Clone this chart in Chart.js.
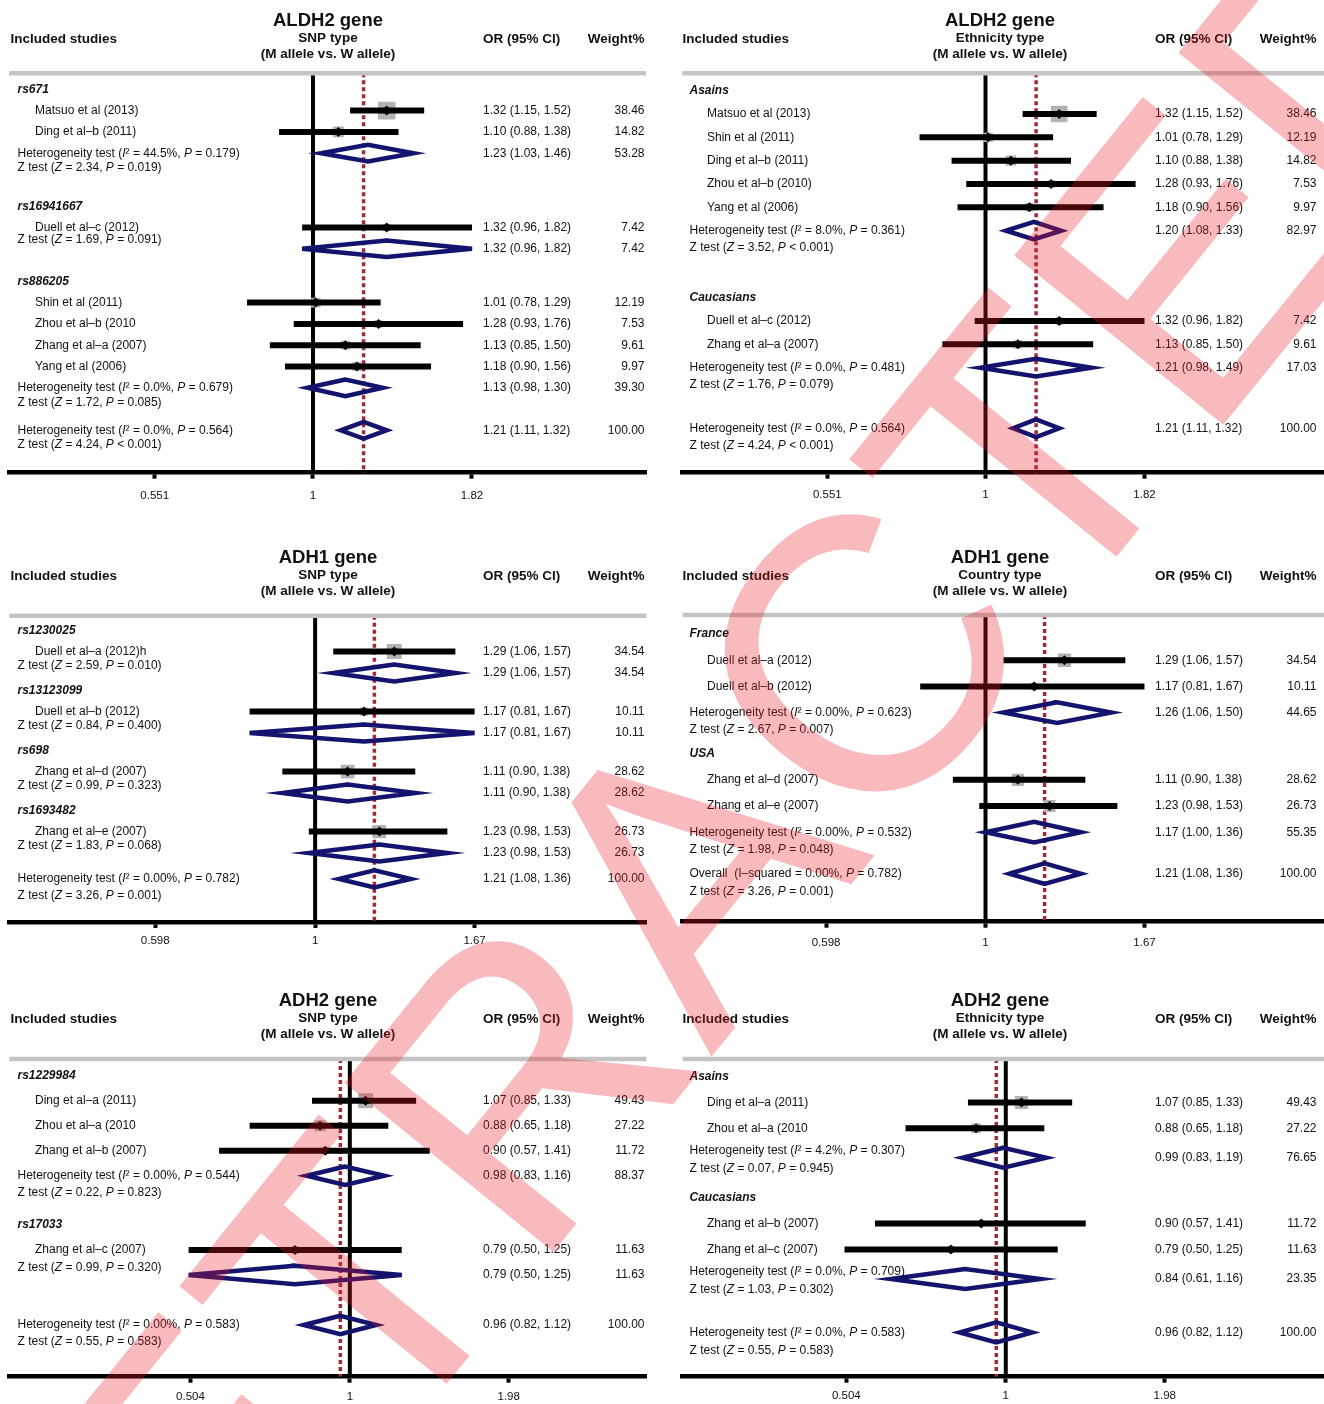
<!DOCTYPE html>
<html lang="en">
<head>
<meta charset="UTF-8">
<title>Forest plots: ALDH2, ADH1, ADH2</title>
<script src="https://cdnjs.cloudflare.com/ajax/libs/Chart.js/4.4.1/chart.umd.min.js"></script>
<style>
  body {
    margin: 0;
    width: 1324px;
    height: 1404px;
    overflow: hidden;
    position: relative;
    background: #fff;
  }
  canvas.panel { position: absolute; }
  #stamp { position: absolute; left: 0; top: 0; pointer-events: none; }
</style>
</head>
<body>
<canvas id="stamp" width="1324" height="1404"></canvas>
<script>
// ---------- data ----------

// tick values of the three x axes
const aldh2Ticks = [0.551, 1, 1.82];
const adh1Ticks = [0.598, 1, 1.67];
const adh2Ticks = [0.504, 1, 1.98];

// ALDH2 gene, SNP type
const aldh2SnpGroups = ['rs671', 'rs16941667', 'rs886205'];
const aldh2SnpStudies = ['Matsuo et al (2013)', 'Ding et al–b (2011)', 'Duell et al–c (2012)', 'Shin et al (2011)',
  'Zhou et al–b (2010', 'Zhang et al–a (2007)', 'Yang et al (2006)'];
const aldh2SnpStudyGroup = [0, 0, 1, 2, 2, 2, 2];
const aldh2SnpOR = [1.32, 1.10, 1.32, 1.01, 1.28, 1.13, 1.18];
const aldh2SnpLow = [1.15, 0.88, 0.96, 0.78, 0.93, 0.85, 0.90];
const aldh2SnpHigh = [1.52, 1.38, 1.82, 1.29, 1.76, 1.50, 1.56];
const aldh2SnpWeight = [38.46, 14.82, 7.42, 12.19, 7.53, 9.61, 9.97];
// pooled rows: one per group, the last one is the overall estimate
const aldh2SnpPoolOR = [1.23, 1.32, 1.13, 1.21];
const aldh2SnpPoolLow = [1.03, 0.96, 0.98, 1.11];
const aldh2SnpPoolHigh = [1.46, 1.82, 1.30, 1.32];
const aldh2SnpPoolWeight = [53.28, 7.42, 39.30, 100.00];
const aldh2SnpHet = ['Heterogeneity test (*I*² = 44.5%, *P* = 0.179)', null,
  'Heterogeneity test (*I*² = 0.0%, *P* = 0.679)', 'Heterogeneity test (*I*² = 0.0%, *P* = 0.564)'];
const aldh2SnpZ = ['Z test (*Z* = 2.34, *P* = 0.019)', 'Z test (*Z* = 1.69, *P* = 0.091)',
  'Z test (*Z* = 1.72, *P* = 0.085)', 'Z test (*Z* = 4.24, *P* < 0.001)'];

// ALDH2 gene, ethnicity type
const aldh2EthGroups = ['Asains', 'Caucasians'];
const aldh2EthStudies = ['Matsuo et al (2013)', 'Shin et al (2011)', 'Ding et al–b (2011)', 'Zhou et al–b (2010)',
  'Yang et al (2006)', 'Duell et al–c (2012)', 'Zhang et al–a (2007)'];
const aldh2EthStudyGroup = [0, 0, 0, 0, 0, 1, 1];
const aldh2EthOR = [1.32, 1.01, 1.10, 1.28, 1.18, 1.32, 1.13];
const aldh2EthLow = [1.15, 0.78, 0.88, 0.93, 0.90, 0.96, 0.85];
const aldh2EthHigh = [1.52, 1.29, 1.38, 1.76, 1.56, 1.82, 1.50];
const aldh2EthWeight = [38.46, 12.19, 14.82, 7.53, 9.97, 7.42, 9.61];
const aldh2EthPoolOR = [1.20, 1.21, 1.21];
const aldh2EthPoolLow = [1.08, 0.98, 1.11];
const aldh2EthPoolHigh = [1.33, 1.49, 1.32];
const aldh2EthPoolWeight = [82.97, 17.03, 100.00];
const aldh2EthHet = ['Heterogeneity test (*I*² = 8.0%, *P* = 0.361)', 'Heterogeneity test (*I*² = 0.0%, *P* = 0.481)',
  'Heterogeneity test (*I*² = 0.0%, *P* = 0.564)'];
const aldh2EthZ = ['Z test (*Z* = 3.52, *P* < 0.001)', 'Z test (*Z* = 1.76, *P* = 0.079)', 'Z test (*Z* = 4.24, *P* < 0.001)'];

// ADH1 gene, SNP type
const adh1SnpGroups = ['rs1230025', 'rs13123099', 'rs698', 'rs1693482'];
const adh1SnpStudies = ['Duell et al–a (2012)h', 'Duell et al–b (2012)', 'Zhang et al–d (2007)', 'Zhang et al–e (2007)'];
const adh1SnpStudyGroup = [0, 1, 2, 3];
const adh1SnpOR = [1.29, 1.17, 1.11, 1.23];
const adh1SnpLow = [1.06, 0.81, 0.90, 0.98];
const adh1SnpHigh = [1.57, 1.67, 1.38, 1.53];
const adh1SnpWeight = [34.54, 10.11, 28.62, 26.73];
const adh1SnpPoolOR = [1.29, 1.17, 1.11, 1.23, 1.21];
const adh1SnpPoolLow = [1.06, 0.81, 0.90, 0.98, 1.08];
const adh1SnpPoolHigh = [1.57, 1.67, 1.38, 1.53, 1.36];
const adh1SnpPoolWeight = [34.54, 10.11, 28.62, 26.73, 100.00];
const adh1SnpHet = [null, null, null, null, 'Heterogeneity test (*I*² = 0.00%, *P* = 0.782)'];
const adh1SnpZ = ['Z test (*Z* = 2.59, *P* = 0.010)', 'Z test (*Z* = 0.84, *P* = 0.400)', 'Z test (*Z* = 0.99, *P* = 0.323)',
  'Z test (*Z* = 1.83, *P* = 0.068)', 'Z test (*Z* = 3.26, *P* = 0.001)'];

// ADH1 gene, country type
const adh1CtyGroups = ['France', 'USA'];
const adh1CtyStudies = ['Duell et al–a (2012)', 'Duell et al–b (2012)', 'Zhang et al–d (2007)', 'Zhang et al–e (2007)'];
const adh1CtyStudyGroup = [0, 0, 1, 1];
const adh1CtyOR = [1.29, 1.17, 1.11, 1.23];
const adh1CtyLow = [1.06, 0.81, 0.90, 0.98];
const adh1CtyHigh = [1.57, 1.67, 1.38, 1.53];
const adh1CtyWeight = [34.54, 10.11, 28.62, 26.73];
const adh1CtyPoolOR = [1.26, 1.17, 1.21];
const adh1CtyPoolLow = [1.06, 1.00, 1.08];
const adh1CtyPoolHigh = [1.50, 1.36, 1.36];
const adh1CtyPoolWeight = [44.65, 55.35, 100.00];
const adh1CtyHet = ['Heterogeneity test (*I*² = 0.00%, *P* = 0.623)', 'Heterogeneity test (*I*² = 0.00%, *P* = 0.532)',
  'Overall  (I–squared = 0.00%, *P* = 0.782)'];
const adh1CtyZ = ['Z test (*Z* = 2.67, *P* = 0.007)', 'Z test (*Z* = 1.98, *P* = 0.048)', 'Z test (*Z* = 3.26, *P* = 0.001)'];

// ADH2 gene, SNP type
const adh2SnpGroups = ['rs1229984', 'rs17033'];
const adh2SnpStudies = ['Ding et al–a (2011)', 'Zhou et al–a (2010', 'Zhang et al–b (2007)', 'Zhang et al–c (2007)'];
const adh2SnpStudyGroup = [0, 0, 0, 1];
const adh2SnpOR = [1.07, 0.88, 0.90, 0.79];
const adh2SnpLow = [0.85, 0.65, 0.57, 0.50];
const adh2SnpHigh = [1.33, 1.18, 1.41, 1.25];
const adh2SnpWeight = [49.43, 27.22, 11.72, 11.63];
const adh2SnpPoolOR = [0.98, 0.79, 0.96];
const adh2SnpPoolLow = [0.83, 0.50, 0.82];
const adh2SnpPoolHigh = [1.16, 1.25, 1.12];
const adh2SnpPoolWeight = [88.37, 11.63, 100.00];
const adh2SnpHet = ['Heterogeneity test (*I*² = 0.00%, *P* = 0.544)', null, 'Heterogeneity test (*I*² = 0.00%, *P* = 0.583)'];
const adh2SnpZ = ['Z test (*Z* = 0.22, *P* = 0.823)', 'Z test (*Z* = 0.99, *P* = 0.320)', 'Z test (*Z* = 0.55, *P* = 0.583)'];

// ADH2 gene, ethnicity type
const adh2EthGroups = ['Asains', 'Caucasians'];
const adh2EthStudies = ['Ding et al–a (2011)', 'Zhou et al–a (2010', 'Zhang et al–b (2007)', 'Zhang et al–c (2007)'];
const adh2EthStudyGroup = [0, 0, 1, 1];
const adh2EthOR = [1.07, 0.88, 0.90, 0.79];
const adh2EthLow = [0.85, 0.65, 0.57, 0.50];
const adh2EthHigh = [1.33, 1.18, 1.41, 1.25];
const adh2EthWeight = [49.43, 27.22, 11.72, 11.63];
const adh2EthPoolOR = [0.99, 0.84, 0.96];
const adh2EthPoolLow = [0.83, 0.61, 0.82];
const adh2EthPoolHigh = [1.19, 1.16, 1.12];
const adh2EthPoolWeight = [76.65, 23.35, 100.00];
const adh2EthHet = ['Heterogeneity test (*I*² = 4.2%, *P* = 0.307)', 'Heterogeneity test (*I*² = 0.0%, *P* = 0.709)',
  'Heterogeneity test (*I*² = 0.0%, *P* = 0.583)'];
const adh2EthZ = ['Z test (*Z* = 0.07, *P* = 0.945)', 'Z test (*Z* = 1.03, *P* = 0.302)', 'Z test (*Z* = 0.55, *P* = 0.583)'];

// ---------- layout / style ----------
const FONT = "'Liberation Sans', Arial, Helvetica, sans-serif";
const NAVY = '#14146e';
const POOL_RED = '#9e2a36';

// xMin / xMax: OR at the left and right ends of each plot
const layouts = {
  aldh2Snp: { left: 0, top: 0, width: 662, height: 537, grayY: 73.3, axisY: 472.7, areaL: 9.3, areaR: 646,
    xMin: 0.3186, xMax: 3.505, labelGap: 21.6, first: 16, step: 21.3, sumStep: 21.3, zOff: 14.5, zSingle: 12,
    gapSum: 53, gapSingle: 32.5, gapOverall: 42.5, gapOverallSingle: 42.5, sumShift: 0, boxK: 2.84, diaH: 8.3 },
  aldh2Eth: { left: 672, top: 0, width: 652, height: 537, grayY: 73.3, axisY: 472.7, areaL: 10.2, areaR: 652,
    xMin: 0.319, xMax: 3.579, labelGap: 20.6, first: 17.4, step: 23.33, sumStep: 23.33, zOff: 17, zSingle: 14,
    gapSum: 67, gapSingle: 40, gapOverall: 60.6, gapOverallSingle: 60, sumShift: 0, boxK: 2.68, diaH: 8.8 },
  adh1Snp: { left: 0, top: 537, width: 662, height: 443, grayY: 78.7, axisY: 385, areaL: 9.3, areaR: 646.4,
    xMin: 0.374, xMax: 2.902, labelGap: 17.3, first: 14.6, step: 21.3, sumStep: 21.3, zOff: 17, zSingle: 14.5,
    gapSum: 40, gapSingle: 17.4, gapOverall: 26, gapOverallSingle: 26, sumShift: 0, boxK: 2.55, diaH: 8.5 },
  adh1Cty: { left: 672, top: 537, width: 652, height: 443, grayY: 78, axisY: 384.7, areaL: 10.6, areaR: 652,
    xMin: 0.3764, xMax: 2.98, labelGap: 19.3, first: 19, step: 26.2, sumStep: 26.2, zOff: 17.5, zSingle: 15,
    gapSum: 41, gapSingle: 30, gapOverall: 41.5, gapOverallSingle: 41.5, sumShift: 0, boxK: 2.28, diaH: 10.3 },
  adh2Snp: { left: 0, top: 980, width: 662, height: 424, grayY: 79, axisY: 396.7, areaL: 9.3, areaR: 646.4,
    xMin: 0.2313, xMax: 3.579, labelGap: 18.3, first: 16.7, step: 25, sumStep: 25, zOff: 17, zSingle: 17.5,
    gapSum: 49.3, gapSingle: 40, gapOverall: 50, gapOverallSingle: 50, sumShift: 0, boxK: 2.13, diaH: 9.2 },
  adh2Eth: { left: 672, top: 980, width: 652, height: 424, grayY: 79, axisY: 396.7, areaL: 10.6, areaR: 652,
    xMin: 0.2494, xMax: 3.925, labelGap: 17.6, first: 17.7, step: 25.8, sumStep: 22, zOff: 18.5, zSingle: 15,
    gapSum: 47.5, gapSingle: 40, gapOverall: 61, gapOverallSingle: 61, sumShift: 7.5, boxK: 1.85, diaH: 10 }
};

// text columns (px from the panel's left edge)
const COL = { title: 328, included: 10.5, group: 17.5, study: 35, het: 17.5, or: 483, weight: 644.5 };

const panels = [
  { gene: 'ALDH2 gene', type: 'SNP type', ticks: aldh2Ticks, L: layouts.aldh2Snp,
    groups: aldh2SnpGroups, studies: aldh2SnpStudies, groupOf: aldh2SnpStudyGroup, or: aldh2SnpOR, lo: aldh2SnpLow,
    hi: aldh2SnpHigh, w: aldh2SnpWeight, pOr: aldh2SnpPoolOR, pLo: aldh2SnpPoolLow, pHi: aldh2SnpPoolHigh,
    pW: aldh2SnpPoolWeight, het: aldh2SnpHet, z: aldh2SnpZ },
  { gene: 'ALDH2 gene', type: 'Ethnicity type', ticks: aldh2Ticks, L: layouts.aldh2Eth,
    groups: aldh2EthGroups, studies: aldh2EthStudies, groupOf: aldh2EthStudyGroup, or: aldh2EthOR, lo: aldh2EthLow,
    hi: aldh2EthHigh, w: aldh2EthWeight, pOr: aldh2EthPoolOR, pLo: aldh2EthPoolLow, pHi: aldh2EthPoolHigh,
    pW: aldh2EthPoolWeight, het: aldh2EthHet, z: aldh2EthZ },
  { gene: 'ADH1 gene', type: 'SNP type', ticks: adh1Ticks, L: layouts.adh1Snp,
    groups: adh1SnpGroups, studies: adh1SnpStudies, groupOf: adh1SnpStudyGroup, or: adh1SnpOR, lo: adh1SnpLow,
    hi: adh1SnpHigh, w: adh1SnpWeight, pOr: adh1SnpPoolOR, pLo: adh1SnpPoolLow, pHi: adh1SnpPoolHigh,
    pW: adh1SnpPoolWeight, het: adh1SnpHet, z: adh1SnpZ },
  { gene: 'ADH1 gene', type: 'Country type', ticks: adh1Ticks, L: layouts.adh1Cty,
    groups: adh1CtyGroups, studies: adh1CtyStudies, groupOf: adh1CtyStudyGroup, or: adh1CtyOR, lo: adh1CtyLow,
    hi: adh1CtyHigh, w: adh1CtyWeight, pOr: adh1CtyPoolOR, pLo: adh1CtyPoolLow, pHi: adh1CtyPoolHigh,
    pW: adh1CtyPoolWeight, het: adh1CtyHet, z: adh1CtyZ },
  { gene: 'ADH2 gene', type: 'SNP type', ticks: adh2Ticks, L: layouts.adh2Snp,
    groups: adh2SnpGroups, studies: adh2SnpStudies, groupOf: adh2SnpStudyGroup, or: adh2SnpOR, lo: adh2SnpLow,
    hi: adh2SnpHigh, w: adh2SnpWeight, pOr: adh2SnpPoolOR, pLo: adh2SnpPoolLow, pHi: adh2SnpPoolHigh,
    pW: adh2SnpPoolWeight, het: adh2SnpHet, z: adh2SnpZ },
  { gene: 'ADH2 gene', type: 'Ethnicity type', ticks: adh2Ticks, L: layouts.adh2Eth,
    groups: adh2EthGroups, studies: adh2EthStudies, groupOf: adh2EthStudyGroup, or: adh2EthOR, lo: adh2EthLow,
    hi: adh2EthHigh, w: adh2EthWeight, pOr: adh2EthPoolOR, pLo: adh2EthPoolLow, pHi: adh2EthPoolHigh,
    pW: adh2EthPoolWeight, het: adh2EthHet, z: adh2EthZ }
];

// row positions (px below the grey header rule) from the order of the rows
function layoutRows(p) {
  const L = p.L;
  const studyY = [], groupY = [], hetY = [], zY = [], sumY = [];
  let y = L.first, prev = null;
  p.groups.forEach((name, g) => {
    if (g > 0) y += prev === 'single' ? L.gapSingle : L.gapSum;
    groupY[g] = y;
    p.groupOf.forEach((gg, i) => { if (gg === g) { y += L.step; studyY[i] = y; } });
    if (p.het[g] === null) {
      zY[g] = y + L.zSingle;
      y += L.step;
      sumY[g] = y;
      hetY[g] = null;
      prev = 'single';
    } else {
      y += L.sumStep;
      hetY[g] = y;
      zY[g] = y + L.zOff;
      sumY[g] = y + L.sumShift;
      prev = 'sum';
    }
  });
  const n = p.groups.length;
  y += prev === 'single' ? L.gapOverallSingle : L.gapOverall;
  hetY[n] = y;
  zY[n] = y + L.zOff;
  sumY[n] = y;
  return { studyY, groupY, hetY, zY, sumY };
}

// text with *italic* segments
function richText(ctx, str, x, y, size) {
  let cx = x;
  str.split('*').forEach((part, i) => {
    ctx.font = (i % 2 ? 'italic ' : '') + size + 'px ' + FONT;
    ctx.fillText(part, cx, y);
    cx += ctx.measureText(part).width;
  });
}

const fmt = v => v.toFixed(2);
const ciText = (o, l, h) => fmt(o) + ' (' + fmt(l) + ', ' + fmt(h) + ')';

function textPlugin(p, rows) {
  return {
    id: 'forestText',
    afterDraw(chart) {
      const ctx = chart.ctx, L = p.L, ys = chart.scales.y;
      const Y = v => ys.getPixelForValue(v);
      ctx.save();
      // grey rule under the header
      ctx.strokeStyle = '#c4c4c4';
      ctx.lineWidth = 4.5;
      ctx.beginPath();
      ctx.moveTo(L.areaL, L.grayY);
      ctx.lineTo(L.areaR, L.grayY);
      ctx.stroke();

      ctx.fillStyle = '#111';
      ctx.textBaseline = 'middle';
      // header
      ctx.textAlign = 'center';
      ctx.font = 'bold 18.5px ' + FONT;
      ctx.fillText(p.gene, COL.title, 20.5);
      ctx.font = 'bold 13.5px ' + FONT;
      ctx.fillText(p.type, COL.title, 38);
      ctx.fillText('(M allele vs. W allele)', COL.title, 54.3);
      ctx.textAlign = 'left';
      ctx.fillText('Included studies', COL.included, 39.5);
      ctx.fillText('OR (95% CI)', COL.or, 39.5);
      ctx.textAlign = 'right';
      ctx.fillText('Weight%', COL.weight, 39.5);

      // group labels
      ctx.textAlign = 'left';
      ctx.font = 'bold italic 12px ' + FONT;
      p.groups.forEach((g, i) => ctx.fillText(g, COL.group, Y(rows.groupY[i])));

      // study rows
      p.studies.forEach((s, i) => {
        const y = Y(rows.studyY[i]);
        ctx.textAlign = 'left';
        ctx.font = '12px ' + FONT;
        ctx.fillText(s, COL.study, y);
        ctx.fillText(ciText(p.or[i], p.lo[i], p.hi[i]), COL.or, y);
        ctx.textAlign = 'right';
        ctx.fillText(fmt(p.w[i]), COL.weight, y);
      });

      // pooled rows
      p.pOr.forEach((o, k) => {
        ctx.textAlign = 'left';
        if (p.het[k] !== null) richText(ctx, p.het[k], COL.het, Y(rows.hetY[k]), 12);
        richText(ctx, p.z[k], COL.het, Y(rows.zY[k]), 12);
        const y = Y(rows.sumY[k]);
        ctx.font = '12px ' + FONT;
        ctx.fillText(ciText(o, p.pLo[k], p.pHi[k]), COL.or, y);
        ctx.textAlign = 'right';
        ctx.fillText(fmt(p.pW[k]), COL.weight, y);
      });
      ctx.restore();
    }
  };
}

function buildPanel(p) {
  const L = p.L;
  const rows = layoutRows(p);
  const yMax = L.axisY - L.grayY;
  const canvas = document.createElement('canvas');
  canvas.className = 'panel';
  canvas.width = L.width;
  canvas.height = L.height;
  canvas.style.left = L.left + 'px';
  canvas.style.top = L.top + 'px';
  document.body.insertBefore(canvas, document.getElementById('stamp'));

  const lineDs = (data, color, width, order, extra) => Object.assign({
    data, showLine: true, borderColor: color, borderWidth: width, pointRadius: 0,
    borderCapStyle: 'butt', tension: 0, fill: false, order
  }, extra || {});

  const datasets = [];
  // no-effect line and pooled-estimate line
  datasets.push(lineDs([{ x: 1, y: 0 }, { x: 1, y: yMax }], '#000', 4, 10));
  const overall = p.pOr[p.pOr.length - 1];
  datasets.push(lineDs([{ x: overall, y: 0 }, { x: overall, y: yMax }], POOL_RED, 3.5, 9, { borderDash: [4, 3] }));

  const pts = p.or.map((o, i) => ({ x: o, y: rows.studyY[i] }));
  // weight boxes
  datasets.push({
    data: pts, pointStyle: 'rect', order: 8, borderWidth: 0, backgroundColor: '#b3b3b3',
    pointRadius: p.w.map(w => L.boxK * Math.sqrt(w) / Math.SQRT2)
  });
  // confidence intervals
  p.or.forEach((o, i) => {
    datasets.push(lineDs([{ x: p.lo[i], y: rows.studyY[i] }, { x: p.hi[i], y: rows.studyY[i] }], '#000', 6, 7));
  });
  // point estimates
  datasets.push({ data: pts, pointStyle: 'rectRot', pointRadius: 5, backgroundColor: '#000', borderWidth: 0, order: 6 });
  // pooled diamonds
  p.pOr.forEach((o, k) => {
    const y = rows.sumY[k], h = L.diaH;
    datasets.push(lineDs([
      { x: p.pLo[k], y }, { x: o, y: y - h }, { x: p.pHi[k], y }, { x: o, y: y + h }, { x: p.pLo[k], y }, { x: o, y: y - h }
    ], NAVY, 4.5, 5, { borderJoinStyle: 'miter' }));
  });

  new Chart(canvas, {
    type: 'scatter',
    data: { datasets },
    options: {
      responsive: false,
      animation: false,
      events: [],
      layout: {
        autoPadding: false,
        padding: { top: L.grayY, left: L.areaL, right: L.width - L.areaR, bottom: 0 }
      },
      plugins: { legend: { display: false }, tooltip: { enabled: false } },
      scales: {
        x: {
          type: 'logarithmic',
          bounds: 'data',
          min: L.xMin,
          max: L.xMax,
          border: { display: true, color: '#000', width: 4.5 },
          grid: { display: true, drawOnChartArea: false, drawTicks: true, tickLength: 6, tickWidth: 4, tickColor: '#000', color: '#000' },
          ticks: {
            color: '#111', font: { family: FONT, size: 11.5 }, padding: L.labelGap - 11,
            maxRotation: 0, autoSkip: false, callback: v => String(v)
          },
          afterBuildTicks: s => { s.ticks = p.ticks.map(v => ({ value: v })); },
          afterFit: s => {
            s.height = L.height - L.axisY;
            s.paddingLeft = 0;
            s.paddingRight = 0;
          }
        },
        y: { type: 'linear', display: false, reverse: true, min: 0, max: yMax }
      }
    },
    plugins: [textPlugin(p, rows)]
  });
}

panels.forEach(buildPanel);

// diagonal "RETRACTED" stamp over the whole figure
(function stamp() {
  const ctx = document.getElementById('stamp').getContext('2d');
  const size = 391;
  ctx.save();
  ctx.translate(684.3, 868);
  ctx.rotate(-51 * Math.PI / 180);
  ctx.font = size + 'px ' + FONT;
  ctx.textAlign = 'center';
  ctx.textBaseline = 'alphabetic';
  ctx.fillStyle = 'rgba(232, 25, 35, 0.3)';
  ctx.fillText('RETRACTED', 0, size * 0.716 / 2);
  ctx.restore();
})();
</script>
</body>
</html>
